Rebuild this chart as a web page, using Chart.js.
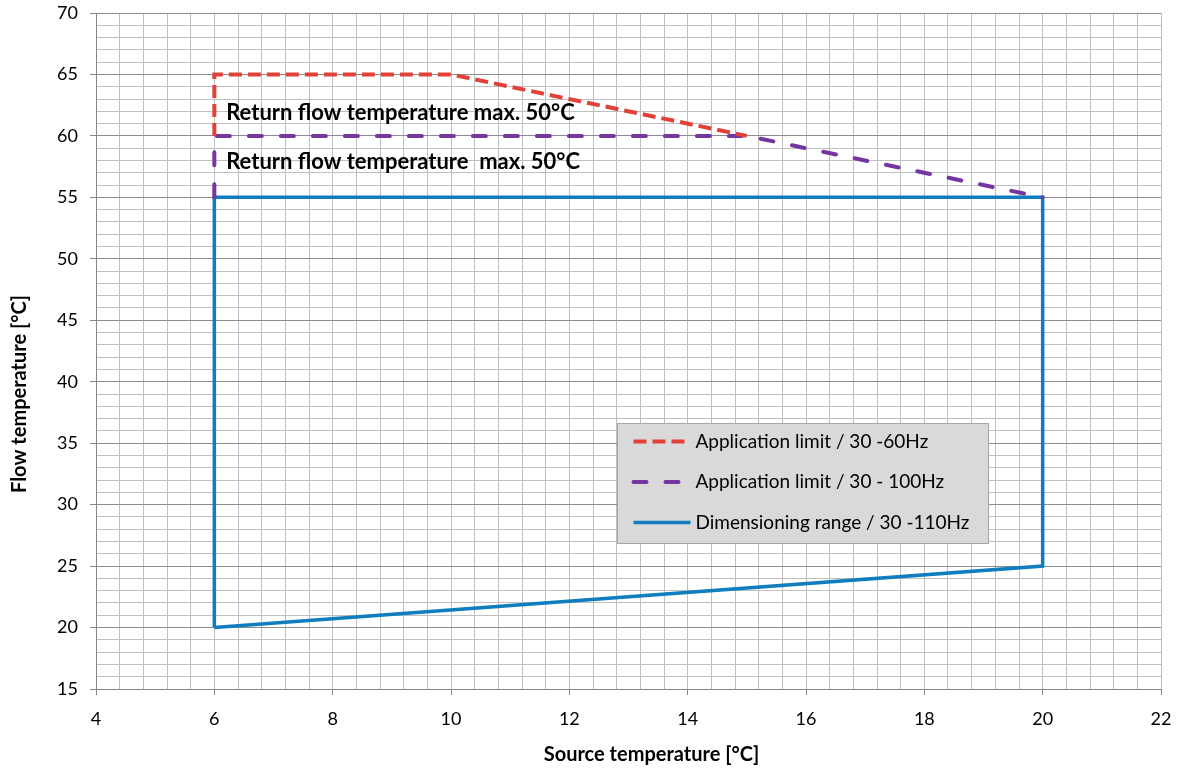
<!DOCTYPE html>
<html>
<head>
<meta charset="utf-8">
<script src="https://cdn.jsdelivr.net/npm/chart.js@4/dist/chart.umd.min.js"></script>
<style>
    html, body { margin: 0; padding: 0; background: #fff; }
    #wrap { width: 1179px; height: 769px; position: relative; }
</style>
</head>
<body>
<div id="wrap"><canvas id="limits-chart" width="1179" height="769"></canvas></div>
<script>
// Operating limits: source temperature vs. flow temperature
const appLimit60X = [6, 6, 10, 15];
const appLimit60Y = [60, 65, 65, 60];
const appLimit100X = [6, 6, 15, 20];
const appLimit100Y = [55, 60, 60, 55];
const dimRangeX = [6, 6, 20, 20, 6];
const dimRangeY = [20, 55, 55, 25, 20];

const seriesLabels = [
    'Application limit / 30 -60Hz',
    'Application limit / 30 - 100Hz',
    'Dimensioning range / 30 -110Hz'
];
const noteTexts = [
    'Return flow temperature max. 50°C',
    'Return flow temperature  max. 50°C'
];
const noteX = [6.2, 6.2];
const noteY = [61.9, 57.9];

const xTitle = 'Source temperature [°C]';
const yTitle = 'Flow temperature [°C]';

const xMin = 4, xMax = 22, xStep = 0.4, xLabelStep = 2;
const yMin = 15, yMax = 70, yStep = 1, yLabelStep = 5;

const RED = '#E2413A';
const PURPLE = '#7535A3';
const BLUE = '#0F7DBE';
const FONT = 'Lato, "Noto Sans", sans-serif';

function toPoints(xs, ys) {
    return xs.map((x, i) => ({ x: x, y: ys[i] }));
}

function isMultiple(v, step) {
    const r = Math.round(v * 100) / 100;
    return Math.abs(r / step - Math.round(r / step)) < 1e-6;
}

// axis titles, a little off-centre from the plot area
const axisTitlesPlugin = {
    id: 'axisTitles',
    afterDraw(chart) {
        const ctx = chart.ctx;
        const a = chart.chartArea;
        ctx.save();
        ctx.font = 'bold 20px ' + FONT;
        ctx.fillStyle = '#000';
        ctx.textAlign = 'center';
        ctx.textBaseline = 'middle';
        ctx.fillText(xTitle, (a.left + a.right) / 2 + 23, 755);
        ctx.translate(20, (a.top + a.bottom) / 2 + 43);
        ctx.rotate(-Math.PI / 2);
        ctx.fillText(yTitle, 0, 0);
        ctx.restore();
    }
};

// text notes written inside the plot
const notesPlugin = {
    id: 'notes',
    afterDatasetsDraw(chart) {
        const ctx = chart.ctx;
        const xs = chart.scales.x, ys = chart.scales.y;
        ctx.save();
        ctx.font = 'bold 22px ' + FONT;
        ctx.fillStyle = '#000';
        ctx.textBaseline = 'middle';
        noteTexts.forEach((t, i) => {
            ctx.fillText(t, xs.getPixelForValue(noteX[i]), ys.getPixelForValue(noteY[i]));
        });
        ctx.restore();
    }
};

// boxed legend with grey fill, drawn over the grid
const boxLegendPlugin = {
    id: 'boxLegend',
    afterDraw(chart) {
        const ctx = chart.ctx;
        const box = { x: 617.5, y: 423.5, w: 371, h: 120 };
        ctx.save();
        ctx.fillStyle = '#D9D9D9';
        ctx.strokeStyle = '#A6A6A6';
        ctx.lineWidth = 1;
        ctx.fillRect(box.x, box.y, box.w, box.h);
        ctx.strokeRect(box.x, box.y, box.w, box.h);
        ctx.font = '19px ' + FONT;
        ctx.textBaseline = 'middle';
        chart.data.datasets.forEach((ds, i) => {
            const cy = box.y + 18 + i * 40.5;
            ctx.beginPath();
            ctx.strokeStyle = ds.borderColor;
            ctx.lineWidth = ds.borderWidth;
            ctx.lineCap = ds.borderCapStyle || 'butt';
            ctx.setLineDash(ds.borderDash || []);
            ctx.moveTo(box.x + 16, cy);
            ctx.lineTo(box.x + 73, cy);
            ctx.stroke();
            ctx.setLineDash([]);
            ctx.fillStyle = '#000';
            ctx.fillText(seriesLabels[i], box.x + 78, cy);
        });
        ctx.restore();
    }
};

const ctx = document.getElementById('limits-chart').getContext('2d');
new Chart(ctx, {
    type: 'scatter',
    data: {
        datasets: [{
            label: seriesLabels[0],
            data: toPoints(appLimit60X, appLimit60Y),
            showLine: true,
            borderColor: RED,
            borderWidth: 4,
            borderDash: [13, 6],
            borderCapStyle: 'butt',
            pointRadius: 0,
            tension: 0
        }, {
            label: seriesLabels[1],
            data: toPoints(appLimit100X, appLimit100Y),
            showLine: true,
            borderColor: PURPLE,
            borderWidth: 4,
            borderDash: [13, 19],
            borderCapStyle: 'round',
            pointRadius: 0,
            tension: 0
        }, {
            label: seriesLabels[2],
            data: toPoints(dimRangeX, dimRangeY),
            showLine: true,
            borderColor: BLUE,
            borderWidth: 3.5,
            borderJoinStyle: 'miter',
            pointRadius: 0,
            tension: 0
        }]
    },
    options: {
        responsive: false,
        animation: false,
        layout: { padding: { top: 13, right: 18, left: 0, bottom: 0 } },
        plugins: {
            legend: { display: false },
            tooltip: { enabled: false }
        },
        scales: {
            x: {
                type: 'linear',
                min: xMin,
                max: xMax,
                afterBuildTicks(scale) {
                    const ticks = [];
                    for (let i = 0; i <= Math.round((xMax - xMin) / xStep); i++) {
                        ticks.push({ value: Math.round((xMin + i * xStep) * 10) / 10 });
                    }
                    scale.ticks = ticks;
                },
                afterFit(scale) {
                    scale.height = 80;
                    scale.paddingLeft = 0;
                    scale.paddingRight = 0;
                },
                grid: {
                    color: '#BFBFBF',
                    lineWidth: 1,
                    tickLength: 6,
                    tickColor: (c) => isMultiple(c.tick.value, xLabelStep) ? '#868686' : 'rgba(0,0,0,0)'
                },
                border: { color: '#868686', width: 1 },
                ticks: {
                    autoSkip: false,
                    maxRotation: 0,
                    padding: 13,
                    color: '#000',
                    font: { family: FONT, size: 18 },
                    callback: (v) => isMultiple(v, xLabelStep) ? String(Math.round(v)) : ''
                }
            },
            y: {
                type: 'linear',
                min: yMin,
                max: yMax,
                afterBuildTicks(scale) {
                    const ticks = [];
                    for (let v = yMin; v <= yMax; v += yStep) ticks.push({ value: v });
                    scale.ticks = ticks;
                },
                afterFit(scale) {
                    scale.width = 96;
                    scale.paddingTop = 0;
                    scale.paddingBottom = 0;
                },
                grid: {
                    color: (c) => isMultiple(c.tick.value, yLabelStep) ? '#8C8C8C' : '#BFBFBF',
                    lineWidth: 1,
                    tickLength: 6,
                    tickColor: (c) => isMultiple(c.tick.value, yLabelStep) ? '#868686' : 'rgba(0,0,0,0)'
                },
                border: { color: '#868686', width: 1 },
                ticks: {
                    autoSkip: false,
                    padding: 12,
                    color: '#000',
                    font: { family: FONT, size: 18 },
                    callback: (v) => isMultiple(v, yLabelStep) ? String(v) : ''
                }
            }
        }
    },
    plugins: [notesPlugin, boxLegendPlugin, axisTitlesPlugin]
});
</script>
</body>
</html>
